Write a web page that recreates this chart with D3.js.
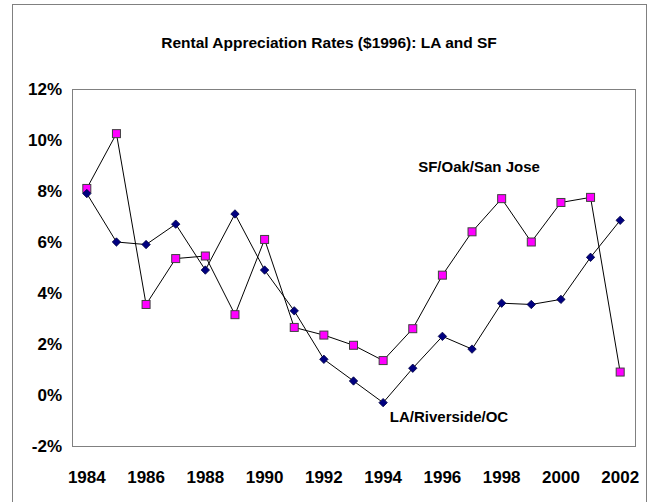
<!DOCTYPE html>
<html>
<head>
<meta charset="utf-8">
<script src="https://d3js.org/d3.v7.min.js"></script>
<style>
  body { margin: 0; background: #fff; }
  text { font-family: "Liberation Sans", Arial, sans-serif; font-weight: bold; fill: #000; }
</style>
</head>
<body>
<div id="chart"></div>
<script>
// data
var years = [1984, 1985, 1986, 1987, 1988, 1989, 1990, 1991, 1992, 1993,
             1994, 1995, 1996, 1997, 1998, 1999, 2000, 2001, 2002];
var laRates = [7.9, 6.0, 5.9, 6.7, 4.9, 7.1, 4.9, 3.3, 1.4, 0.55,
               -0.3, 1.05, 2.3, 1.8, 3.6, 3.55, 3.75, 5.4, 6.85];
var sfRates = [8.1, 10.25, 3.55, 5.35, 5.45, 3.15, 6.1, 2.65, 2.35, 1.95,
               1.35, 2.6, 4.7, 6.4, 7.7, 6.0, 7.55, 7.75, 0.9];
var yTicks = [-2, 0, 2, 4, 6, 8, 10, 12];
var xTicks = [1984, 1986, 1988, 1990, 1992, 1994, 1996, 1998, 2000, 2002];

var W = 649, H = 502;
var margin = {top: 89, right: 14, bottom: 56, left: 72},
    width = W - margin.left - margin.right,
    height = H - margin.top - margin.bottom;

var svg = d3.select("#chart").append("svg")
    .attr("width", W)
    .attr("height", H);

// outer chart border
svg.append("rect")
    .attr("x", 12.5).attr("y", 4.5)
    .attr("width", 634).attr("height", 500)
    .attr("fill", "#fff")
    .attr("stroke", "#808080")
    .attr("stroke-width", 1);

svg.append("text")
    .attr("x", 329)
    .attr("y", 48)
    .attr("text-anchor", "middle")
    .attr("font-size", 15.5)
    .text("Rental Appreciation Rates ($1996): LA and SF");

var g = svg.append("g")
    .attr("transform", "translate(" + margin.left + "," + margin.top + ")");

var x = d3.scaleBand()
    .domain(years)
    .range([0, width])
    .padding(0);

var y = d3.scaleLinear()
    .domain([-2, 12])
    .range([height, 0]);

// plot area border
g.append("rect")
    .attr("x", 0.5).attr("y", 0.5)
    .attr("width", width).attr("height", height)
    .attr("fill", "none")
    .attr("stroke", "#808080")
    .attr("stroke-width", 1);

var yAxis = g.append("g")
    .call(d3.axisLeft(y).tickValues(yTicks).tickSize(0).tickPadding(10)
      .tickFormat(function(d) { return d + "%"; }));
yAxis.select(".domain").remove();
yAxis.selectAll("text")
    .attr("font-size", 17)
    .style("font-family", "'Liberation Sans', Arial, sans-serif")
    .style("font-weight", "bold");

var xAxis = g.append("g")
    .attr("transform", "translate(0," + height + ")")
    .call(d3.axisBottom(x).tickValues(xTicks).tickSize(0).tickPadding(25));
xAxis.select(".domain").remove();
xAxis.selectAll("text")
    .attr("font-size", 17)
    .style("font-family", "'Liberation Sans', Arial, sans-serif")
    .style("font-weight", "bold");

function cx(i) { return x(years[i]) + x.bandwidth() / 2; }

var line = d3.line()
    .x(function(d, i) { return cx(i); })
    .y(function(d) { return y(d); });

g.append("path")
    .datum(sfRates)
    .attr("d", line)
    .attr("fill", "none")
    .attr("stroke", "#000")
    .attr("stroke-width", 1);

g.append("path")
    .datum(laRates)
    .attr("d", line)
    .attr("fill", "none")
    .attr("stroke", "#000")
    .attr("stroke-width", 1);

// SF squares
g.selectAll(".sq")
    .data(sfRates)
    .enter().append("rect")
    .attr("class", "sq")
    .attr("x", function(d, i) { return cx(i) - 4; })
    .attr("y", function(d) { return y(d) - 4; })
    .attr("width", 8)
    .attr("height", 8)
    .attr("fill", "#ff00ff")
    .attr("stroke", "#404040")
    .attr("stroke-width", 1);

// LA diamonds
g.selectAll(".dm")
    .data(laRates)
    .enter().append("path")
    .attr("class", "dm")
    .attr("d", function(d, i) {
      var px = cx(i), py = y(d), r = 4.2;
      return "M" + px + "," + (py - r) + "L" + (px + r) + "," + py +
             "L" + px + "," + (py + r) + "L" + (px - r) + "," + py + "Z";
    })
    .attr("fill", "#000080")
    .attr("stroke", "#000040")
    .attr("stroke-width", 0.8);

// series labels
g.append("text")
    .attr("x", 479 - margin.left)
    .attr("y", 172 - margin.top)
    .attr("text-anchor", "middle")
    .attr("font-size", 15)
    .text("SF/Oak/San Jose");

g.append("text")
    .attr("x", 449 - margin.left)
    .attr("y", 422 - margin.top)
    .attr("text-anchor", "middle")
    .attr("font-size", 15)
    .text("LA/Riverside/OC");
</script>
</body>
</html>
